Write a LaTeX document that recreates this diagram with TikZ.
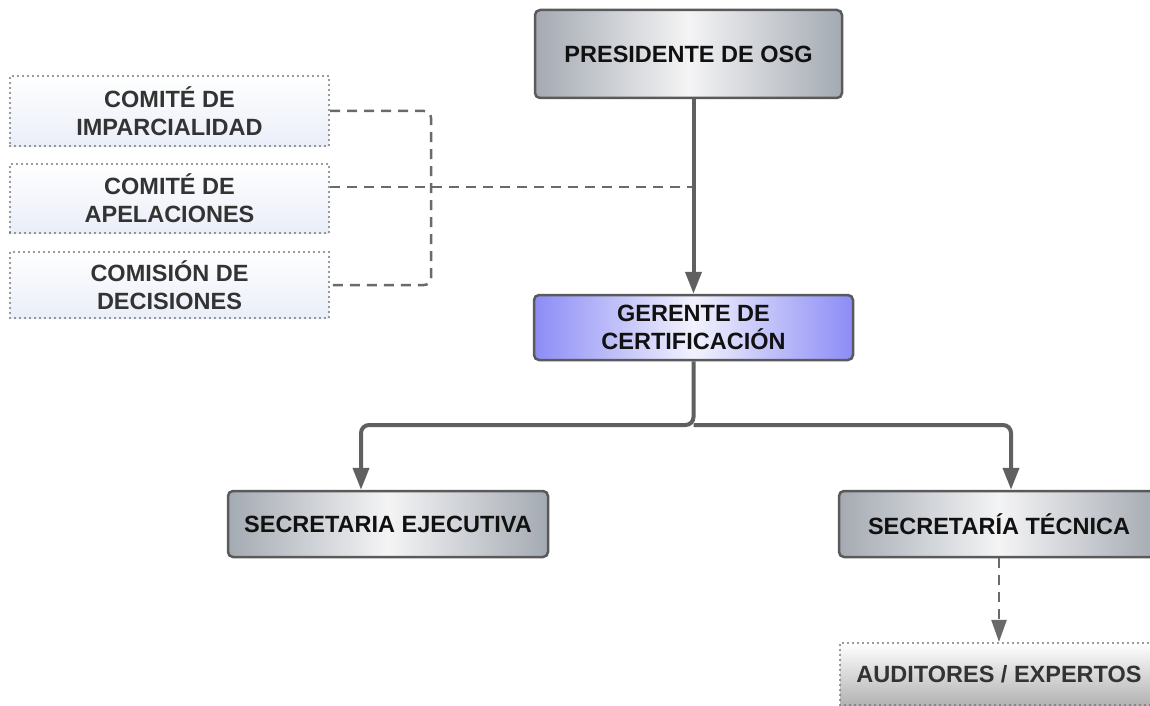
\documentclass[tikz,border=0pt]{standalone}
\usepackage{fontspec}
\setmainfont{Liberation Sans}
\usetikzlibrary{arrows.meta,calc}
\definecolor{edgegray}{HTML}{A4AAB2}
\definecolor{midgray}{HTML}{F4F4F5}
\definecolor{edgeblue}{HTML}{8C8CF6}
\definecolor{midblue}{HTML}{F2F2FD}
\definecolor{boxline}{HTML}{5A5A5A}
\definecolor{connc}{HTML}{606060}
\definecolor{dashc}{HTML}{6A6A6A}
\definecolor{dotc}{HTML}{777777}
\definecolor{lightblue}{HTML}{EAEEF8}
\definecolor{txtdark}{HTML}{111111}
\definecolor{txtgray}{HTML}{333333}
\tikzset{
  base/.style={inner sep=0pt, align=center, font=\fontsize{23.5}{28}\selectfont\bfseries},
  graybox/.style={base, draw=boxline, line width=2.5pt, rounded corners=5pt,
    left color=edgegray, right color=edgegray, middle color=midgray, text=txtdark},
  bluebox/.style={base, draw=boxline, line width=2.5pt, rounded corners=5pt,
    left color=edgeblue, right color=edgeblue, middle color=midblue, text=txtdark},
  dotbox/.style={base, draw=dotc, line width=2.2pt, dash pattern=on 0pt off 5pt, line cap=round,
    top color=white, bottom color=lightblue, text=txtgray},
  audbox/.style={base, draw=dotc, line width=2.2pt, dash pattern=on 0pt off 5pt, line cap=round,
    top color=white, bottom color=gray!60, text=txtgray},
  arr/.style={draw=connc, line width=4pt, rounded corners=8pt,
    -{Triangle[length=22pt,width=16pt]}},
  dsh/.style={draw=dashc, line width=2.5pt, dash pattern=on 10pt off 7pt, rounded corners=7pt},
  dsharr/.style={draw=dashc, line width=2.5pt, dash pattern=on 10pt off 7pt,
    -{Triangle[length=22pt,width=15pt]}}
}
\begin{document}
\begin{tikzpicture}[x=1pt,y=-1pt]
\useasboundingbox (0,0) rectangle (1150,706);

\node[graybox, minimum width=307pt, minimum height=88pt] (pres) at (688.5,54) {PRESIDENTE DE OSG};

\node[dotbox, minimum width=319pt, minimum height=70pt] (imp) at (169.5,111) {COMITÉ DE\\IMPARCIALIDAD};
\node[dotbox, minimum width=319pt, minimum height=69pt] (ape) at (169.5,198.5) {COMITÉ DE\\APELACIONES};
\node[dotbox, minimum width=319pt, minimum height=66pt] (dec) at (169.5,285) {COMISIÓN DE\\DECISIONES};

\node[bluebox, minimum width=319pt, minimum height=65pt] (ger) at (693.5,327.5) {GERENTE DE\\CERTIFICACIÓN};

\node[graybox, minimum width=320pt, minimum height=66pt] (sej) at (388,524) {SECRETARIA EJECUTIVA};
\node[graybox, minimum width=320pt, minimum height=66pt] (stec) at (999,524) {SECRETARÍA TÉCNICA};
\node[audbox, minimum width=318pt, minimum height=62pt] (aud) at (999,674) {AUDITORES / EXPERTOS};

% bracket of committees
\coordinate (bt) at (431,111);
\coordinate (bb) at (431,285);
\coordinate (bm) at (693,187);
\draw[dsh] (imp.east) -- (bt) -- (bb) -- (dec.east);
\draw[dsh] (ape.east |- bm) -- (bm);

% main hierarchy
\draw[arr] (ger.north |- pres.south) -- (ger.north);
\coordinate (jL) at (361,425);
\coordinate (jR) at (1011,425);
\draw[arr] (ger.south) -- (ger.south |- jL) -- (jL) -- (jL |- sej.north);
\draw[arr] (ger.south |- jR) -- (jR) -- (jR |- stec.north);
\draw[dsharr] (stec.south) -- (aud.north);
\end{tikzpicture}
\end{document}
